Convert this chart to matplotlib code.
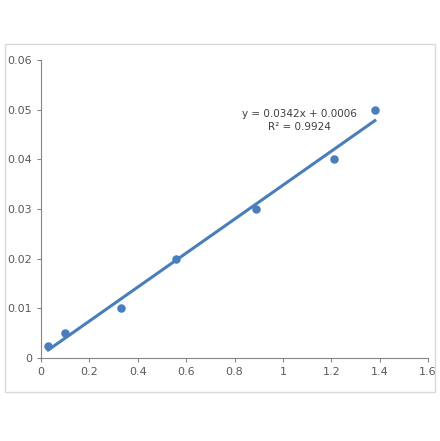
import matplotlib
matplotlib.use("Agg")
import matplotlib.pyplot as plt
import numpy as np

x = [0.03, 0.10, 0.33, 0.56, 0.89, 1.21, 1.38]
y = [0.0025, 0.005, 0.01, 0.02, 0.03, 0.04, 0.05]
slope, intercept = 0.0342, 0.0006
color = "#4a7ebb"

fig = plt.figure(figsize=(4.4, 4.41), dpi=100)
fig.patches.append(plt.Rectangle((0.012, 0.11), 0.976, 0.79, transform=fig.transFigure,
                                 fill=False, edgecolor="#d9d9d9", lw=1))
ax = fig.add_axes([0.093, 0.188, 0.88, 0.676])
ax.scatter(x, y, color=color, s=26, zorder=3)
lx = np.array([min(x), max(x)])
ax.plot(lx, slope * lx + intercept, color=color, lw=2.2)
ax.set_xlim(0, 1.6)
ax.set_ylim(0, 0.06)
ax.set_xticks(np.arange(0, 1.61, 0.2))
ax.set_xticklabels(["0", "0.2", "0.4", "0.6", "0.8", "1", "1.2", "1.4", "1.6"])
ax.set_yticks(np.arange(0, 0.061, 0.01))
ax.set_yticklabels(["0", "0.01", "0.02", "0.03", "0.04", "0.05", "0.06"])
for s in ["top", "right"]:
    ax.spines[s].set_visible(False)
for s in ["left", "bottom"]:
    ax.spines[s].set_color("#868686")
ax.tick_params(colors="#595959", labelsize=8, length=3, color="#868686")
ax.text(1.07, 0.0478, "y = 0.0342x + 0.0006\nR² = 0.9924", ha="center", va="center",
        fontsize=7.5, color="#404040", linespacing=1.3)
fig.savefig("out.png", dpi=100)
